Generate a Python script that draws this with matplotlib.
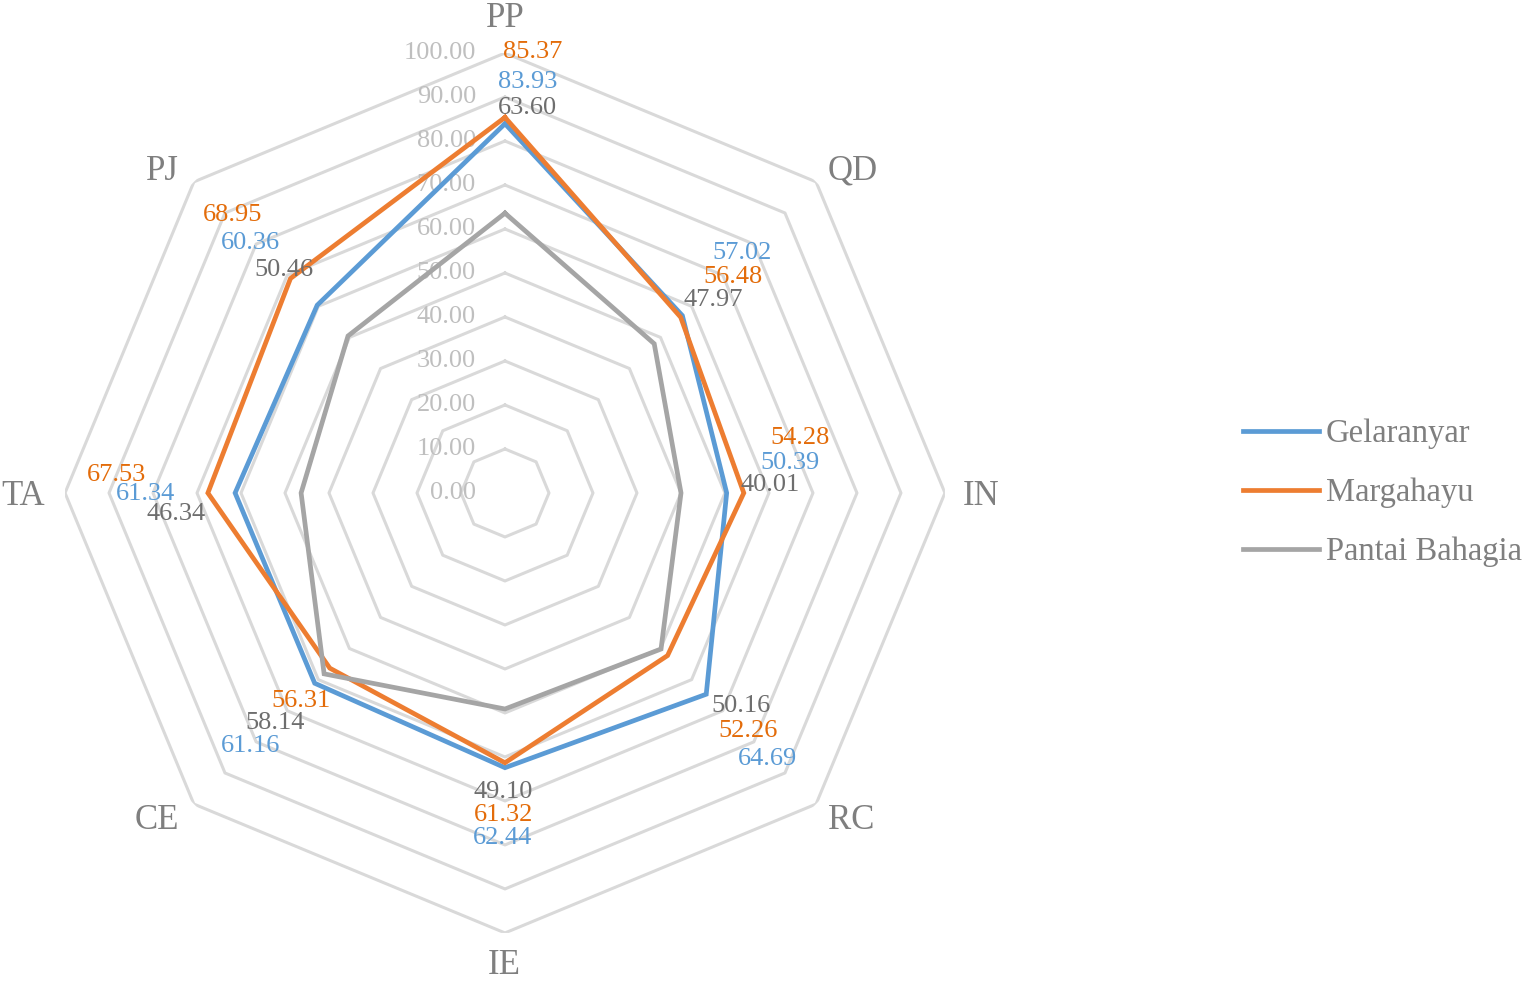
import matplotlib.pyplot as plt
import numpy as np

CATEGORIES = ["PP", "QD", "IN", "RC", "IE", "CE", "TA", "PJ"]
SERIES = ["Gelaranyar", "Margahayu", "Pantai Bahagia"]
GELARANYAR = [83.93, 57.02, 50.39, 64.69, 62.44, 61.16, 61.34, 60.36]
MARGAHAYU = [85.37, 56.48, 54.28, 52.26, 61.32, 56.31, 67.53, 68.95]
PANTAI = [63.60, 47.97, 40.01, 50.16, 49.10, 58.14, 46.34, 50.46]
TICKS = [0, 10, 20, 30, 40, 50, 60, 70, 80, 90, 100]

COLORS = ["#5B9BD5", "#ED7D31", "#A5A5A5"]
LABEL_COLORS = ["#5B9BD5", "#E36C0A", "#6E6E6E"]
GRID = "#D9D9D9"
TEXT = "#7F7F7F"
TICK = "#BFBFBF"

# label offsets from each point, in pixels (dx right, dy up)
OFFSETS = [
    [(23, 42), (60, 63), (63, 30), (61, -65), (-2, -70), (-64, -63), (-90, -1), (-67, 62)],
    [(28, 65), (52, 40), (56, 55), (80, -75), (-1, -52), (-29, -33), (-91, 18), (-58, 63)],
    [(22, 105), (59, 44), (89, 8), (80, -57), (-2, -83), (-49, -49), (-125, -21), (-64, 66)],
]
# category label baseline offsets from the outer vertex, pixels
CAT_OFFSETS = [(0, 26), (37, 2), (36, -12), (35, -25), (-1, -41), (-37, -25), (-42, -12), (-31, 2)]

plt.rcParams["font.family"] = ["Liberation Serif", "DejaVu Serif"]

fig = plt.figure(figsize=(15.37, 9.83), dpi=100)
ax = fig.add_axes([0.0423, 0.0509, 0.5725, 0.8952], projection="polar")
ax.set_theta_zero_location("N")
ax.set_theta_direction(-1)
ax.set_ylim(0, 100)
ax.grid(False)
ax.spines["polar"].set_visible(False)
ax.set_xticks([])
ax.set_yticks([])

angles = np.arange(len(CATEGORIES)) * 2 * np.pi / len(CATEGORIES)
closed = np.append(angles, angles[0])

for t in TICKS[1:]:
    ax.plot(closed, [t] * len(closed), color=GRID, linewidth=2.2, zorder=1)
for t in TICKS:
    ax.annotate(f"{t:.2f}", xy=(0, t), xytext=(-29, 0), textcoords="offset pixels",
                ha="right", va="center", fontsize=19, color=TICK, zorder=2)

for ang, cat, (dx, dy) in zip(angles, CATEGORIES, CAT_OFFSETS):
    ax.annotate(cat, xy=(ang, TICKS[-1]), xytext=(dx, dy), textcoords="offset pixels",
                ha="center", va="baseline", fontsize=25, color=TEXT,
                annotation_clip=False)

for values, name, color, lcolor, offs in zip([GELARANYAR, MARGAHAYU, PANTAI], SERIES,
                                             COLORS, LABEL_COLORS, OFFSETS):
    ax.plot(closed, values + values[:1], color=color, linewidth=3.4, label=name, zorder=3,
            solid_joinstyle="miter")
    for ang, v, (dx, dy) in zip(angles, values, offs):
        ax.annotate(f"{v:.2f}", xy=(ang, v), xytext=(dx, dy), textcoords="offset pixels",
                    ha="center", va="center", fontsize=19, color=lcolor, zorder=4)

leg = fig.legend(loc="center left", bbox_to_anchor=(0.809, 0.4985), frameon=False,
                 fontsize=23.5, handlelength=2.3, handletextpad=0.22, labelspacing=0.88,
                 borderpad=0, borderaxespad=0)
for txt in leg.get_texts():
    txt.set_color(TEXT)

fig.savefig("out.png", dpi=100, facecolor="white")
